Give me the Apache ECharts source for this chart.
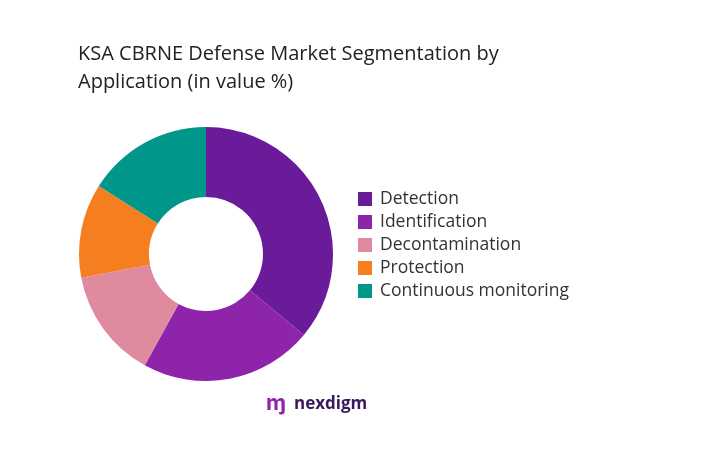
<!DOCTYPE html>
<html><head><meta charset="utf-8">
<script src="https://cdn.jsdelivr.net/npm/echarts@6/dist/echarts.min.js"></script>
<style>html,body{margin:0;padding:0;background:#fff}#c{width:713px;height:463px}</style>
</head><body><div id="c"></div>
<script>
const categories = ["Detection","Identification","Decontamination","Protection","Continuous monitoring"];
const values = [36,22,14,12,16];
const colors = ["#6a1b9a","#8e24aa","#e08aa0","#f57f20","#00968a"];
const chart = echarts.init(document.getElementById('c'));
chart.setOption({
  title:{text:"KSA CBRNE Defense Market Segmentation by\nApplication (in value %)",left:73,top:35,
    textStyle:{fontFamily:"Open Sans",fontSize:20,fontWeight:"normal",color:"#222",lineHeight:28}},
  legend:{orient:"vertical",left:353,top:185,itemWidth:14,itemHeight:14,itemGap:5,icon:"rect",
    textStyle:{fontFamily:"Open Sans",fontSize:17.5,lineHeight:18,color:"#333",padding:[0,0,0,3]},data:categories},
  graphic:[{type:"text",left:294,top:396,style:{text:"nexdigm",font:"bold 17px Open Sans",fill:"#3a1a5a"}},
    {type:"text",left:266,top:392,style:{text:"ɱ",font:"bold 22px Inter",fill:"#8e24aa"}}],
  series:[{type:"pie",center:[206,254],radius:[57,127],startAngle:90,clockwise:true,
    label:{show:false},labelLine:{show:false},silent:true,
    data:categories.map((n,i)=>({name:n,value:values[i],itemStyle:{color:colors[i]}}))}]
});
</script></body></html>
